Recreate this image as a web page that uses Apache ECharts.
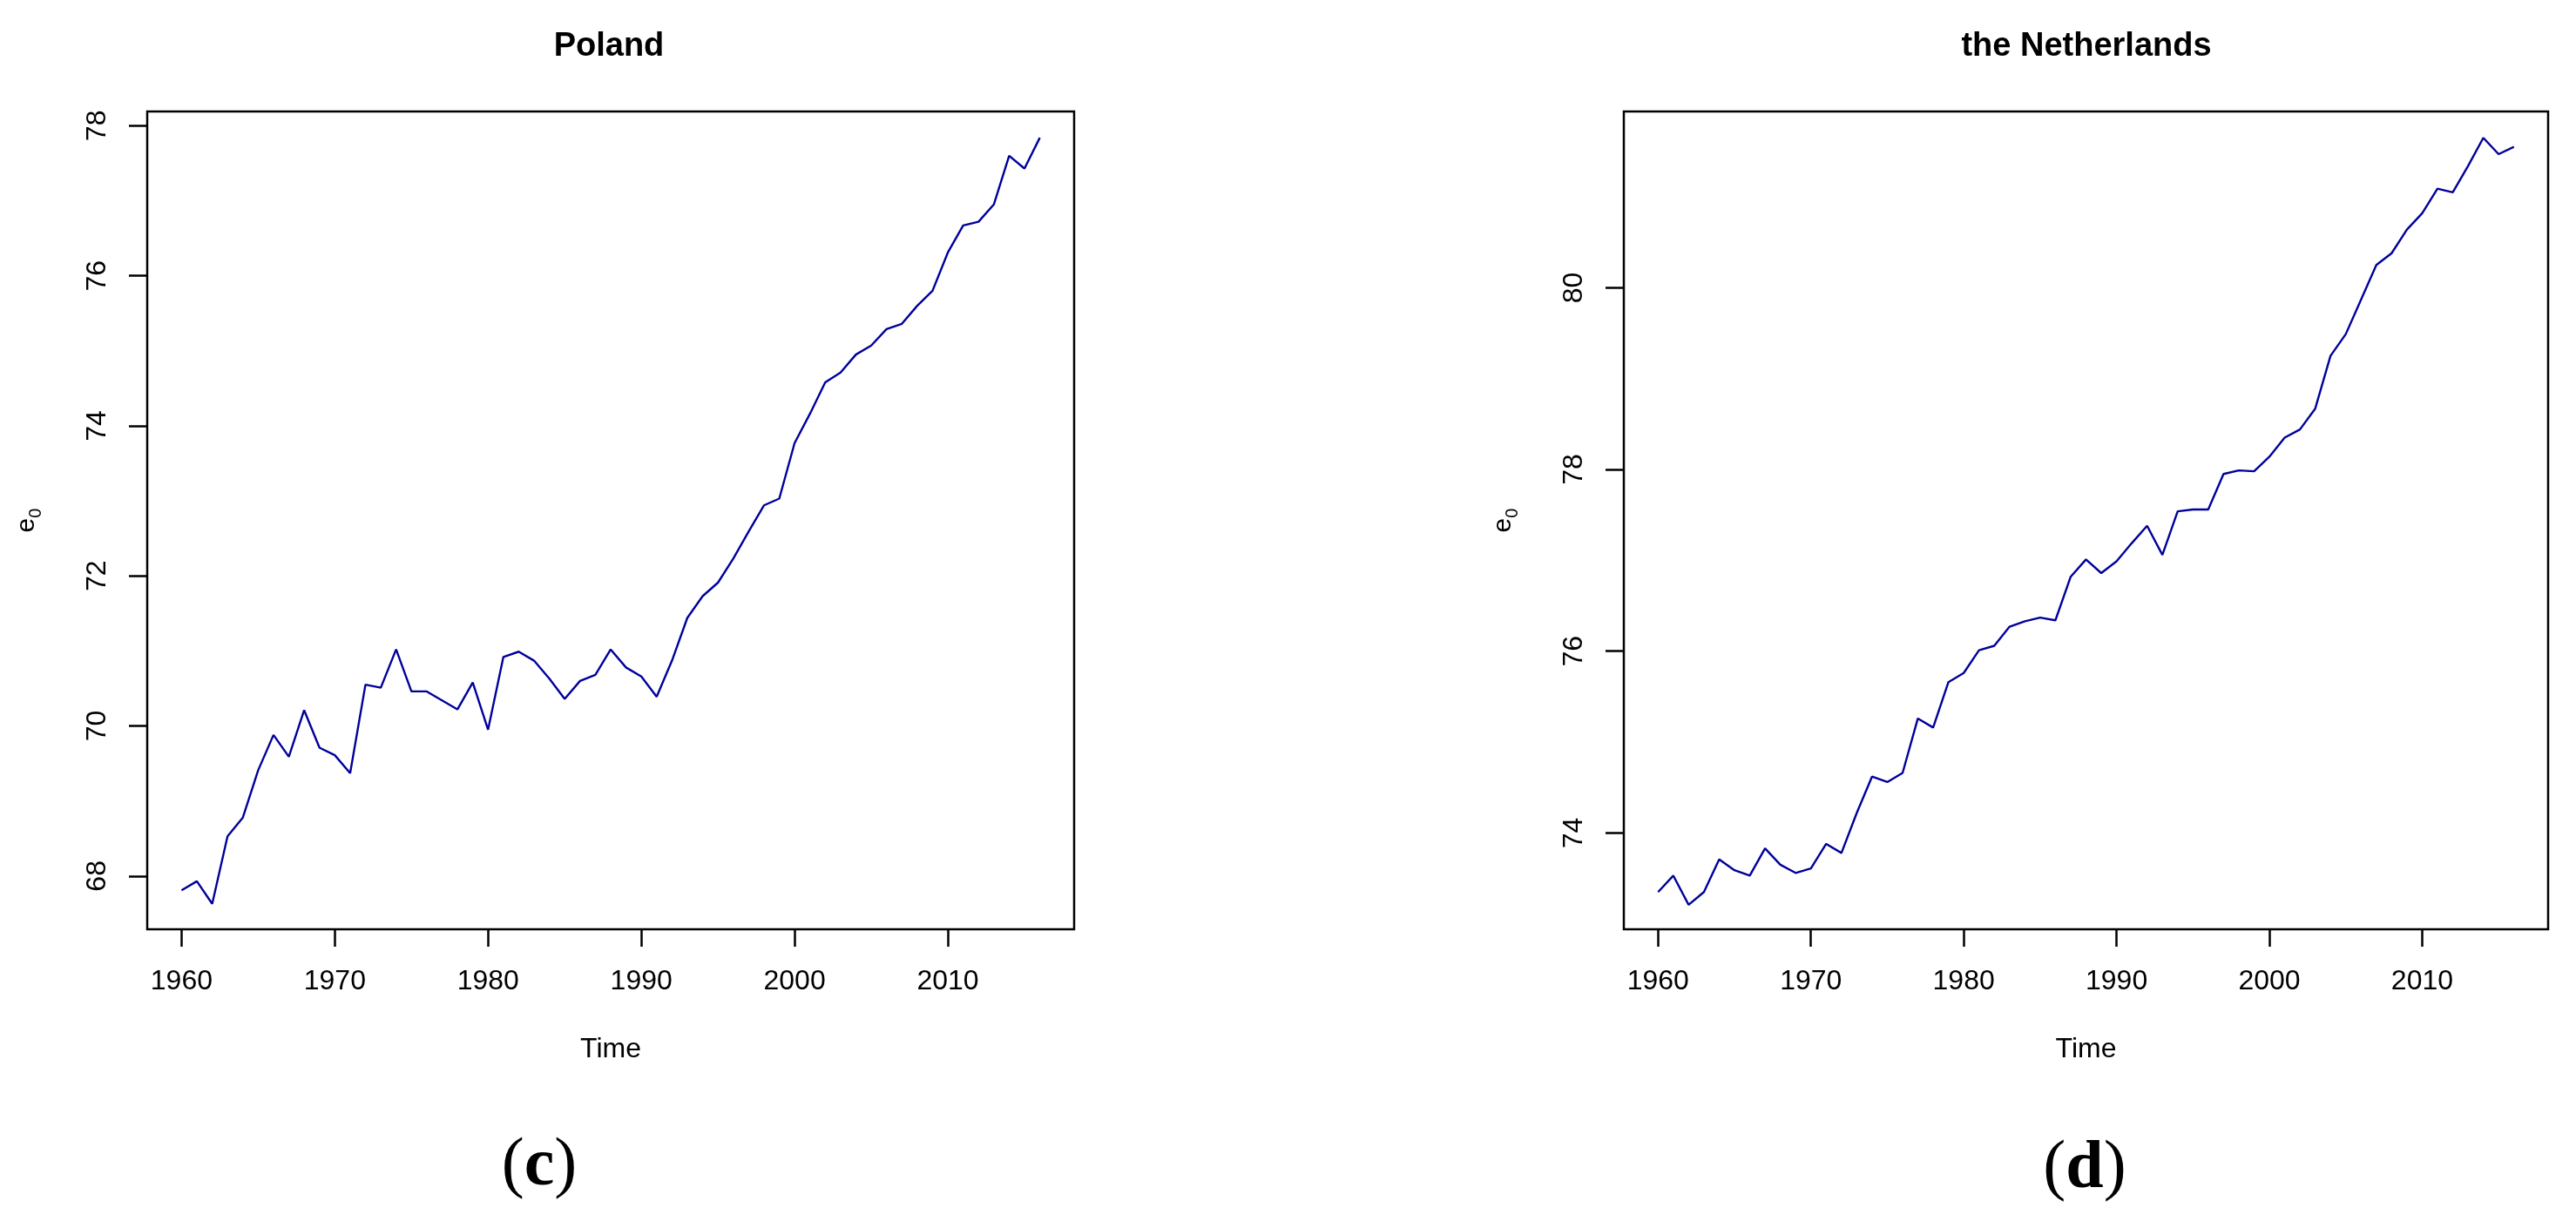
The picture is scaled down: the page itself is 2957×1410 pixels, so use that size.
<!DOCTYPE html>
<html>
<head>
<meta charset="utf-8">
<script src="https://cdn.jsdelivr.net/npm/echarts@6/dist/echarts.min.js"></script>
<style>
html,body{margin:0;padding:0;background:#fff;}
#chart{width:2957px;height:1410px;}
</style>
</head>
<body>
<div id="chart"></div>
<script>
const years = [1960,1961,1962,1963,1964,1965,1966,1967,1968,1969,
  1970,1971,1972,1973,1974,1975,1976,1977,1978,1979,
  1980,1981,1982,1983,1984,1985,1986,1987,1988,1989,
  1990,1991,1992,1993,1994,1995,1996,1997,1998,1999,
  2000,2001,2002,2003,2004,2005,2006,2007,2008,2009,
  2010,2011,2012,2013,2014,2015,2016];

const polandE0 = [67.81,67.93,67.63,68.53,68.78,69.41,69.88,69.59,70.21,69.71,
  69.61,69.37,70.55,70.51,71.02,70.46,70.46,70.34,70.22,70.58,
  69.95,70.92,70.99,70.87,70.63,70.36,70.60,70.68,71.02,70.78,
  70.66,70.39,70.87,71.44,71.73,71.91,72.23,72.59,72.94,73.03,
  73.77,74.16,74.58,74.71,74.95,75.07,75.29,75.36,75.60,75.80,
  76.31,76.67,76.72,76.95,77.60,77.43,77.84];

const netherlandsE0 = [73.35,73.53,73.21,73.35,73.71,73.59,73.53,73.83,73.65,73.56,
  73.61,73.88,73.78,74.22,74.62,74.56,74.66,75.26,75.16,75.66,
  75.76,76.01,76.06,76.27,76.33,76.37,76.34,76.82,77.01,76.86,
  76.99,77.19,77.38,77.06,77.54,77.56,77.56,77.95,77.99,77.98,
  78.14,78.35,78.44,78.67,79.25,79.49,79.87,80.25,80.38,80.64,
  80.82,81.09,81.05,81.34,81.65,81.47,81.55];

const xTicks = [1960,1970,1980,1990,2000,2010];
const polandYTicks = [68,70,72,74,76,78];
const netherlandsYTicks = [74,76,78,80];
const panelTitles = ['Poland','the Netherlands'];
const panelLetters = ['c','d'];
const xName = 'Time';

const SANS = 'Liberation Sans, Arial, sans-serif';
const SERIF = 'Liberation Serif, Times New Roman, serif';
const LINE_COLOR = '#00009C';

function pairs(xs, ys){ return xs.map((x,i)=>[x, ys[i]]); }

const grids = [
  {left:169, top:128, width:1064, height:939},
  {left:1864, top:128, width:1061, height:939}
];

function xAxisFor(i){
  return {
    type:'value', gridIndex:i, min:1957.76, max:2018.24,
    axisLine:{show:false},
    splitLine:{show:false},
    axisTick:{show:true, customValues:xTicks, length:20, lineStyle:{color:'#000', width:2.5}},
    axisLabel:{show:true, customValues:xTicks, fontSize:32, color:'#000', fontFamily:SANS, margin:44,
      formatter:v=>String(v)},
    name:xName, nameLocation:'middle', nameGap:122,
    nameTextStyle:{fontSize:32, color:'#000', fontFamily:SANS}
  };
}
function yAxisFor(i, mn, mx, ticks){
  return {
    type:'value', gridIndex:i, min:mn, max:mx,
    axisLine:{show:false},
    splitLine:{show:false},
    axisTick:{show:true, customValues:ticks, length:21, lineStyle:{color:'#000', width:2.5}},
    axisLabel:{show:true, customValues:ticks, fontSize:32, color:'#000', fontFamily:SANS, rotate:90, margin:41,
      formatter:v=>String(v)},
    name:'{e|e}{s|0}', nameLocation:'middle', nameRotate:90, nameGap:118,
    nameTextStyle:{color:'#000', fontFamily:SANS,
      rich:{
        e:{fontSize:30, lineHeight:40, verticalAlign:'middle', fontFamily:SANS, color:'#000'},
        s:{fontSize:20, lineHeight:24, verticalAlign:'bottom', fontFamily:SANS, color:'#000'}
      }}
  };
}

const option = {
  backgroundColor:'#fff',
  animation:false,
  grid: grids.map(g=>Object.assign({show:true, borderColor:'#000', borderWidth:2.5, backgroundColor:'transparent'}, g)),
  xAxis:[xAxisFor(0), xAxisFor(1)],
  yAxis:[yAxisFor(0, 67.29, 78.19, polandYTicks), yAxisFor(1, 72.94, 81.94, netherlandsYTicks)],
  series:[
    {type:'line', xAxisIndex:0, yAxisIndex:0, data:pairs(years, polandE0), showSymbol:false,
      lineStyle:{color:LINE_COLOR, width:2.4}, itemStyle:{color:LINE_COLOR}},
    {type:'line', xAxisIndex:1, yAxisIndex:1, data:pairs(years, netherlandsE0), showSymbol:false,
      lineStyle:{color:LINE_COLOR, width:2.4}, itemStyle:{color:LINE_COLOR}}
  ],
  graphic:[
    {type:'text', x:699, y:54, style:{text:panelTitles[0], font:'bold 38px '+SANS, fill:'#000', textAlign:'center', textVerticalAlign:'middle'}},
    {type:'text', x:2395, y:54, style:{text:panelTitles[1], font:'bold 38px '+SANS, fill:'#000', textAlign:'center', textVerticalAlign:'middle'}},
    {type:'text', x:619, y:1340, style:{text:'{p|(}{b|'+panelLetters[0]+'}{p|)}', textAlign:'center', textVerticalAlign:'middle',
      rich:{p:{fontSize:78, fontFamily:SERIF, fill:'#000'}, b:{fontSize:78, fontWeight:'bold', fontFamily:SERIF, fill:'#000'}}}},
    {type:'text', x:2393, y:1343, style:{text:'{p|(}{b|'+panelLetters[1]+'}{p|)}', textAlign:'center', textVerticalAlign:'middle',
      rich:{p:{fontSize:78, fontFamily:SERIF, fill:'#000'}, b:{fontSize:78, fontWeight:'bold', fontFamily:SERIF, fill:'#000'}}}}
  ]
};

const chart = echarts.init(document.getElementById('chart'), null, {renderer:'canvas'});
chart.setOption(option);
</script>
</body>
</html>
